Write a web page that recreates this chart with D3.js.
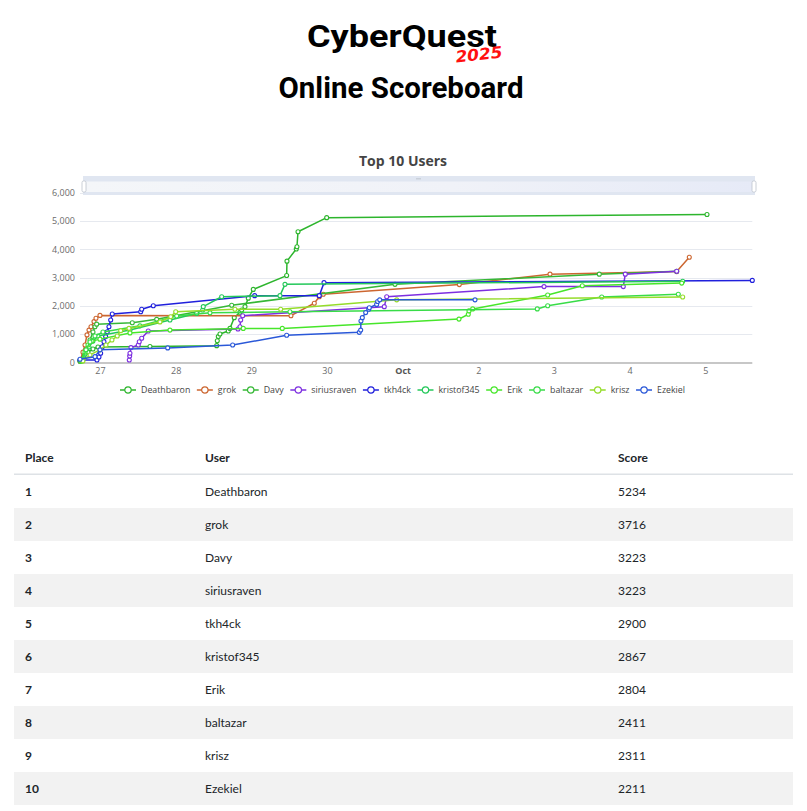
<!DOCTYPE html>
<html><head><meta charset="utf-8">
<script src="https://cdn.jsdelivr.net/npm/d3@7"></script>
<style>body{margin:0;background:#fff}svg{display:block}</style>
</head><body>
<svg id="c" width="807" height="811"></svg>
<script>
// ---------- data ----------
const users = ["Deathbaron","grok","Davy","siriusraven","tkh4ck","kristof345","Erik","baltazar","krisz","Ezekiel"];
const places = [1,2,3,4,5,6,7,8,9,10];
const finalScores = [5234,3716,3223,3223,2900,2867,2804,2411,2311,2211];
const seriesColors = ["#2db52d","#cc6630","#36b836","#7d2fe0","#2020dc","#24c85a","#47e62a","#38dc48","#95dc2a","#2a58d8"];
const yTickValues = [0,1000,2000,3000,4000,5000,6000];
const xTickDates = ["2025-09-27","2025-09-28","2025-09-29","2025-09-30","2025-10-01","2025-10-02","2025-10-03","2025-10-04","2025-10-05"];
const xDomain = ["2025-09-26T17:40","2025-10-05T14:55"];

const deathbaronTimes = ["2025-09-26T17:40","2025-09-26T18:55","2025-09-26T20:12","2025-09-26T21:47","2025-09-26T23:22","2025-09-27T15:52","2025-09-28T13:01","2025-09-28T13:13","2025-09-28T13:32","2025-09-28T14:04","2025-09-28T16:42","2025-09-28T17:14","2025-09-28T18:36","2025-09-28T20:25","2025-09-28T20:57","2025-09-28T22:00","2025-09-28T23:03","2025-09-29T00:38","2025-09-29T11:13","2025-09-29T11:19","2025-09-29T14:16","2025-09-29T14:29","2025-09-29T14:49","2025-09-29T23:55","2025-10-05T00:33"];
const deathbaronScores = [50,220,360,470,540,560,590,765,910,1000,1110,1200,1580,1770,1850,1970,2270,2580,3070,3580,4010,4090,4620,5120,5234];

const grokTimes = ["2025-09-26T17:40","2025-09-26T18:36","2025-09-26T19:15","2025-09-26T19:53","2025-09-26T20:31","2025-09-26T21:09","2025-09-26T22:06","2025-09-26T22:44","2025-09-27T00:00","2025-09-29T12:35","2025-09-29T19:59","2025-09-29T21:34","2025-09-29T22:50","2025-10-01T17:59","2025-10-02T22:45","2025-10-04T14:56","2025-10-04T18:56"];
const grokScores = [50,360,610,970,1140,1260,1440,1560,1660,1650,2090,2320,2410,2750,3120,3210,3716];

const davyTimes = ["2025-09-26T17:40","2025-09-26T19:34","2025-09-26T20:50","2025-09-26T21:47","2025-09-26T22:25","2025-09-26T22:57","2025-09-27T10:15","2025-09-27T17:59","2025-09-28T17:47","2025-09-30T21:35","2025-10-03T14:23","2025-10-04T14:56"];
const davyScores = [50,440,790,1070,1260,1350,1400,1520,2020,2760,3120,3223];

const siriusravenTimes = ["2025-09-27T09:18","2025-09-27T09:25","2025-09-27T09:31","2025-09-27T09:50","2025-09-27T12:09","2025-09-27T12:28","2025-09-27T13:14","2025-09-27T15:19","2025-09-28T19:47","2025-09-28T20:25","2025-09-28T20:38","2025-09-28T21:16","2025-09-30T18:11","2025-09-30T18:57","2025-10-02T20:51","2025-10-03T22:00","2025-10-03T22:38","2025-10-04T14:56"];
const siriusravenScores = [80,220,320,520,610,730,850,1110,1180,1260,1500,1650,1970,2320,2680,2680,3120,3223];

const tkh4ckTimes = ["2025-09-26T17:40","2025-09-26T23:03","2025-09-26T23:41","2025-09-27T00:13","2025-09-27T00:44","2025-09-27T01:16","2025-09-27T01:48","2025-09-27T02:19","2025-09-27T02:51","2025-09-27T03:24","2025-09-27T03:54","2025-09-27T12:55","2025-09-27T13:14","2025-09-27T16:55","2025-09-29T01:04","2025-09-29T21:34","2025-09-29T23:04","2025-10-05T14:55"];
const tkh4ckScores = [80,80,190,320,550,730,910,1080,1260,1500,1710,1790,1880,2000,2360,2360,2820,2900];

const kristof345Times = ["2025-09-26T17:58","2025-09-26T19:15","2025-09-26T20:31","2025-09-26T21:47","2025-09-26T23:22","2025-09-27T09:31","2025-09-27T22:12","2025-09-28T06:40","2025-09-28T08:35","2025-09-28T08:46","2025-09-28T14:36","2025-09-29T09:06","2025-09-29T10:41","2025-10-04T16:50"];
const kristof345Scores = [50,290,540,750,930,1140,1500,1730,1850,1970,2320,2360,2760,2867];

const erikTimes = ["2025-09-26T17:58","2025-09-26T19:15","2025-09-26T20:12","2025-09-26T21:28","2025-09-27T00:00","2025-09-27T09:31","2025-09-27T22:12","2025-09-28T21:27","2025-09-29T09:50","2025-10-01T17:53","2025-10-01T20:50","2025-10-01T21:03","2025-10-01T22:14","2025-10-02T22:01","2025-10-03T09:00","2025-10-04T16:32"];
const erikScores = [50,360,610,750,820,1040,1140,1200,1200,1530,1700,1820,1890,2380,2710,2804];

const baltazarTimes = ["2025-09-26T18:17","2025-09-26T19:34","2025-09-26T20:50","2025-09-26T22:25","2025-09-27T00:57","2025-09-27T12:41","2025-09-28T00:20","2025-09-28T10:54","2025-09-29T12:16","2025-10-02T18:43","2025-10-02T22:01","2025-10-03T15:09","2025-10-04T15:27"];
const baltazarScores = [50,440,720,930,1070,1290,1640,1750,1790,1890,2000,2310,2411];

const kriszTimes = ["2025-09-26T18:36","2025-09-26T20:50","2025-09-27T00:00","2025-09-27T01:54","2025-09-27T03:48","2025-09-27T05:29","2025-09-27T06:34","2025-09-27T09:12","2025-09-27T19:02","2025-09-27T22:26","2025-09-28T00:01","2025-09-28T18:49","2025-09-29T09:19","2025-09-30T22:07","2025-10-04T16:50"];
const kriszScores = [50,260,440,610,790,930,1120,1200,1430,1610,1790,1880,1880,2210,2311];

const ezekielTimes = ["2025-09-26T17:40","2025-09-26T22:25","2025-09-27T00:00","2025-09-27T21:29","2025-09-28T18:05","2025-09-29T11:13","2025-09-30T10:15","2025-09-30T10:42","2025-09-30T10:47","2025-09-30T11:13","2025-09-30T12:17","2025-09-30T13:14","2025-09-30T13:26","2025-09-30T15:46","2025-09-30T16:05","2025-09-30T16:44","2025-10-01T22:58"];
const ezekielScores = [110,200,440,510,610,960,1060,1140,1460,1580,1760,1880,1930,2050,2150,2211,2211];

const seriesTimes = [deathbaronTimes,grokTimes,davyTimes,siriusravenTimes,tkh4ckTimes,kristof345Times,erikTimes,baltazarTimes,kriszTimes,ezekielTimes];
const seriesScores = [deathbaronScores,grokScores,davyScores,siriusravenScores,tkh4ckScores,kristof345Scores,erikScores,baltazarScores,kriszScores,ezekielScores];

// ---------- drawing ----------
const svg = d3.select("#c");
const parseT = d3.utcParse("%Y-%m-%dT%H:%M");
const parseD = d3.utcParse("%Y-%m-%d");

// Title
svg.append("text").attr("x",402).attr("y",47).attr("text-anchor","middle")
  .attr("font-family","Roboto, 'DejaVu Sans', sans-serif").attr("font-weight",700)
  .attr("font-size",32).attr("fill","#000")
  .attr("textLength",190).attr("lengthAdjust","spacingAndGlyphs").text("CyberQuest");
svg.append("text").attr("x",479).attr("y",60).attr("text-anchor","middle")
  .attr("font-family","'DejaVu Sans', sans-serif").attr("font-weight",700).attr("font-style","italic")
  .attr("font-size",16).attr("fill","#ff1010")
  .attr("transform","rotate(-6,479,55)")
  .attr("textLength",47).attr("lengthAdjust","spacingAndGlyphs").text("2025");
svg.append("text").attr("x",401).attr("y",98).attr("text-anchor","middle")
  .attr("font-family","Roboto, 'DejaVu Sans', sans-serif").attr("font-weight",700)
  .attr("font-size",29).attr("fill","#000")
  .attr("textLength",245).attr("lengthAdjust","spacingAndGlyphs").text("Online Scoreboard");

// Chart title
svg.append("text").attr("x",403).attr("y",166).attr("text-anchor","middle")
  .attr("font-family","'Open Sans', sans-serif").attr("font-weight",700)
  .attr("font-size",14).attr("fill","#444").text("Top 10 Users");

const x = d3.scaleUtc().domain(xDomain.map(parseT)).range([80, 752.3]);
const y = d3.scaleLinear().domain([0,6000]).range([362.3, 192.8]);

// gridlines
svg.append("g").selectAll("line").data(yTickValues.filter(v=>v>0)).join("line")
  .attr("x1",80).attr("x2",752.3)
  .attr("y1",d=>Math.round(y(d))+0.5).attr("y2",d=>Math.round(y(d))+0.5)
  .attr("stroke","#e6e9ef").attr("stroke-width",1);

// y axis labels
const yAxis = d3.axisLeft(y).tickValues(yTickValues).tickFormat(d3.format(",")).tickSize(0).tickPadding(5);
const yg = svg.append("g").attr("transform","translate(80,0)").call(yAxis);
yg.select(".domain").remove();
yg.selectAll("text").attr("font-family","'Open Sans', sans-serif").attr("font-size",9).attr("fill","#6b6b6b");

// x axis
const xAxis = d3.axisBottom(x).tickValues(xTickDates.map(parseD))
  .tickFormat(d => d.getUTCDate()===1 ? d3.utcFormat("%b")(d) : d3.utcFormat("%-d")(d))
  .tickSize(0).tickPadding(5);
const xg = svg.append("g").attr("transform","translate(0,362.5)").call(xAxis);
xg.select(".domain").attr("stroke","#8f8f8f").attr("d","M78,0.5H752.3");
xg.selectAll("text").attr("font-family","'Open Sans', sans-serif").attr("font-size",9)
  .attr("font-weight",d=>d.getUTCDate()===1?700:400).attr("fill",d=>d.getUTCDate()===1?"#555":"#6b6b6b");

// range slider
const rs = svg.append("g");
const defs = svg.append("defs");
const grad = defs.append("linearGradient").attr("id","rsg").attr("x1","0").attr("x2","1");
grad.append("stop").attr("offset","0").attr("stop-color","#f4f6f9");
grad.append("stop").attr("offset","0.55").attr("stop-color","#f0f2f8");
grad.append("stop").attr("offset","1").attr("stop-color","#e6eaf7");
rs.append("rect").attr("x",83).attr("y",176).attr("width",672).attr("height",19).attr("fill","#e0e6f1");
rs.append("rect").attr("x",84).attr("y",181.5).attr("width",670).attr("height",10.5).attr("fill","url(#rsg)");
rs.append("rect").attr("x",82).attr("y",181).attr("width",4).attr("height",11).attr("rx",1.5)
  .attr("fill","#fff").attr("stroke","#bcc3cc").attr("stroke-width",0.8);
rs.append("rect").attr("x",752).attr("y",181).attr("width",4).attr("height",11).attr("rx",1.5)
  .attr("fill","#fff").attr("stroke","#bcc3cc").attr("stroke-width",0.8);
rs.append("rect").attr("x",416).attr("y",178).attr("width",5).attr("height",1.5).attr("fill","#c9d0da");

// series
const line = d3.line().x(d=>x(d.t)).y(d=>y(d.s));
users.forEach((u,i)=>{
  const pts = seriesTimes[i].map((t,k)=>({t:parseT(t), s:seriesScores[i][k]}));
  const g = svg.append("g");
  g.append("path").datum(pts).attr("d",line).attr("fill","none")
    .attr("stroke",seriesColors[i]).attr("stroke-width",1.5).attr("stroke-linejoin","round");
  g.selectAll("circle").data(pts).join("circle")
    .attr("cx",d=>x(d.t)).attr("cy",d=>y(d.s)).attr("r",2)
    .attr("fill","#fff").attr("stroke",seriesColors[i]).attr("stroke-width",1.1);
});

// legend
const leg = svg.append("g");
const items = [];
let lx = 0;
users.forEach((u,i)=>{
  const g = leg.append("g");
  g.append("line").attr("x1",0).attr("x2",16).attr("y1",0).attr("y2",0)
    .attr("stroke",seriesColors[i]).attr("stroke-width",1.5);
  g.append("circle").attr("cx",8).attr("cy",0).attr("r",3.2).attr("fill","#fff")
    .attr("stroke",seriesColors[i]).attr("stroke-width",1.2);
  const t = g.append("text").attr("x",21).attr("y",0).attr("dy","0.35em")
    .attr("font-family","'Open Sans', sans-serif").attr("font-size",8.8).attr("fill","#444").text(u);
  items.push({g, w: 21 + t.node().getComputedTextLength()});
});
const sumW = d3.sum(items, d=>d.w);
const gap = Math.max(4, (565 - sumW)/9);
items.forEach(it=>{ it.g.attr("transform",`translate(${lx},0)`); lx += it.w + gap; });
leg.attr("transform",`translate(${120},390)`);

// table
const tbl = svg.append("g").attr("font-family","Lato, sans-serif").attr("font-size",12).attr("fill","#212529");
const colX = [25,205,618];
["Place","User","Score"].forEach((h,i)=>{
  tbl.append("text").attr("x",colX[i]).attr("y",458).attr("dy","0.35em").attr("font-weight",700).text(h);
});
tbl.append("rect").attr("x",14).attr("y",473.5).attr("width",779).attr("height",1.5).attr("fill","#dee2e6");
places.forEach((p,i)=>{
  const cy = 491.5 + 33*i;
  if (i%2===1) tbl.append("rect").attr("x",14).attr("y",cy-16.5).attr("width",779).attr("height",33).attr("fill","#f2f2f2");
  tbl.append("text").attr("x",colX[0]).attr("y",cy).attr("dy","0.35em").attr("font-weight",700).text(p);
  tbl.append("text").attr("x",colX[1]).attr("y",cy).attr("dy","0.35em").text(users[i]);
  tbl.append("text").attr("x",colX[2]).attr("y",cy).attr("dy","0.35em").text(finalScores[i]);
});
</script>
</body></html>
